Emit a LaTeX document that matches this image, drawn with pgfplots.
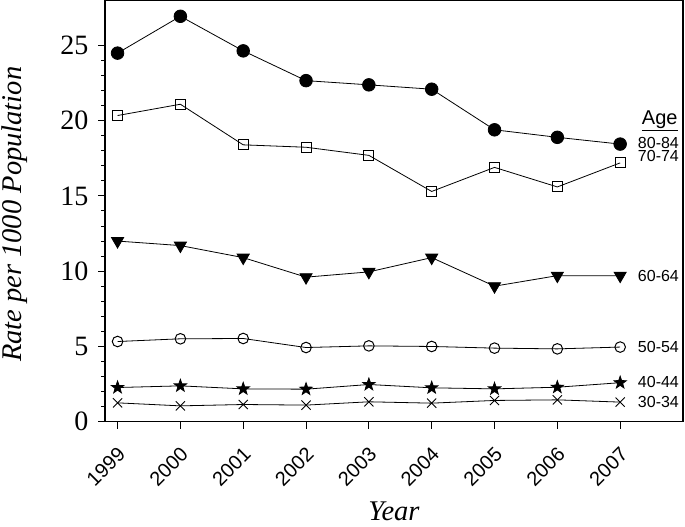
\documentclass[border=0pt]{standalone}
\usepackage{fontspec}
\setmainfont{Liberation Serif}
\setsansfont{Liberation Sans}
\usepackage{pgfplots}
\pgfplotsset{compat=1.18}

\pgfdeclareplotmark{fstar}{%
  \pgfpathmoveto{\pgfpointpolar{90}{\pgfplotmarksize}}%
  \pgfpathlineto{\pgfpointpolar{126}{0.4\pgfplotmarksize}}%
  \pgfpathlineto{\pgfpointpolar{162}{\pgfplotmarksize}}%
  \pgfpathlineto{\pgfpointpolar{198}{0.4\pgfplotmarksize}}%
  \pgfpathlineto{\pgfpointpolar{234}{\pgfplotmarksize}}%
  \pgfpathlineto{\pgfpointpolar{270}{0.4\pgfplotmarksize}}%
  \pgfpathlineto{\pgfpointpolar{306}{\pgfplotmarksize}}%
  \pgfpathlineto{\pgfpointpolar{342}{0.4\pgfplotmarksize}}%
  \pgfpathlineto{\pgfpointpolar{18}{\pgfplotmarksize}}%
  \pgfpathlineto{\pgfpointpolar{54}{0.4\pgfplotmarksize}}%
  \pgfpathclose
  \pgfusepathqfillstroke}

\begin{document}
\begin{tikzpicture}
\path[use as bounding box] (-105pt,-105pt) rectangle (580pt,421.5pt);
\begin{axis}[
  at={(0pt,0pt)}, anchor=south west,
  scale only axis, width=578pt, height=421pt,
  xmin=1998.8, xmax=2008, ymin=0, ymax=28,
  xtick={1999,2000,...,2007}, ytick={0,5,...,25}, minor y tick num=4,
  tick pos=left, tick align=outside,
  major tick length=7pt, minor tick length=4pt,
  tick style={black, line width=1pt},
  axis line style={line width=1.2pt},
  /pgf/number format/assume math mode=true,
  /pgf/number format/1000 sep={},
  yticklabel style={font=\fontsize{28}{28}\selectfont, xshift=-6pt},
  xticklabel style={font=\fontsize{20}{20}\selectfont\sffamily, inner sep=0pt, anchor=north east, xshift=-1pt, yshift=-17pt, rotate=45},
  xlabel={\textit{Year}}, ylabel={\textit{Rate per 1000 Population}},
  label style={font=\fontsize{28.5}{28.5}\selectfont},
  xlabel style={at={(axis description cs:0.5,-0.235)}, anchor=base},
  ylabel style={at={(axis description cs:-0.157,0.492)}, anchor=center, inner sep=0pt},
  clip=false,
  every axis plot/.append style={black, line width=0.8pt},
]
\addplot[mark=*, mark size=6.3pt] coordinates {(1999,24.5) (2000,26.95) (2001,24.65) (2002,22.67) (2003,22.39) (2004,22.1) (2005,19.4) (2006,18.9) (2007,18.45)};
\addplot[mark=square, mark size=5pt, mark options={fill=white, line width=1pt}] coordinates {(1999,20.35) (2000,21.1) (2001,18.4) (2002,18.24) (2003,17.7) (2004,15.3) (2005,16.9) (2006,15.6) (2007,17.2)};
\addplot[mark=triangle*, mark size=7pt, mark options={rotate=180}] coordinates {(1999,12.0) (2000,11.7) (2001,10.9) (2002,9.6) (2003,9.95) (2004,10.9) (2005,9.0) (2006,9.7) (2007,9.7)};
\addplot[mark=o, mark size=5.3pt, mark options={fill=white, line width=1pt}] coordinates {(1999,5.32) (2000,5.5) (2001,5.52) (2002,4.92) (2003,5.03) (2004,4.99) (2005,4.88) (2006,4.83) (2007,4.95)};
\addplot[mark=fstar, mark size=6.5pt] coordinates {(1999,2.26) (2000,2.37) (2001,2.17) (2002,2.15) (2003,2.46) (2004,2.24) (2005,2.17) (2006,2.28) (2007,2.58)};
\addplot[mark=x, mark size=6.5pt, mark options={line width=0.9pt}] coordinates {(1999,1.24) (2000,1.04) (2001,1.13) (2002,1.09) (2003,1.31) (2004,1.22) (2005,1.4) (2006,1.44) (2007,1.29)};
\begin{scope}[every node/.style={anchor=west, inner sep=0pt, font=\fontsize{16}{16}\selectfont\sffamily}]
\node at (axis cs:2007.28,18.5) {80-84};
\node at (axis cs:2007.28,17.66) {70-74};
\node at (axis cs:2007.28,9.71) {60-64};
\node at (axis cs:2007.28,4.94) {50-54};
\node at (axis cs:2007.28,2.61) {40-44};
\node at (axis cs:2007.28,1.28) {30-34};
\end{scope}
\node[anchor=base, inner sep=0pt, font=\fontsize{20}{20}\selectfont\sffamily] at (axis cs:2007.63,19.75) {\underline{Age}};
\end{axis}
\end{tikzpicture}
\end{document}
